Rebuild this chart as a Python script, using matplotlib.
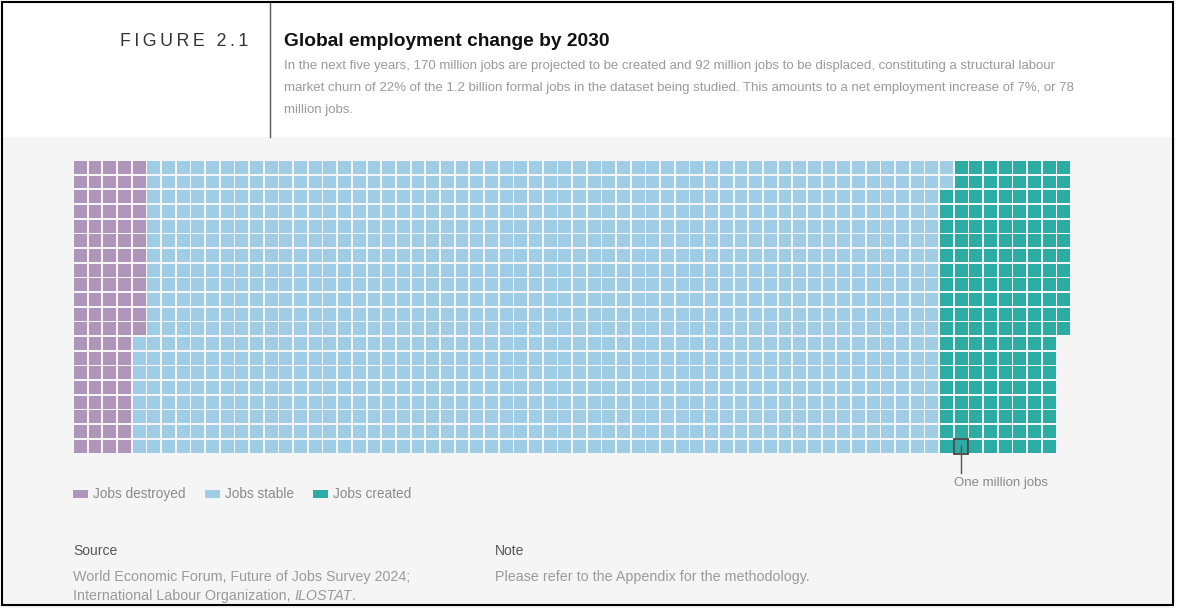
import matplotlib.pyplot as plt
from matplotlib.patches import Rectangle

# waffle data: one cell = one million jobs
categories = ['Jobs destroyed', 'Jobs stable', 'Jobs created']
counts = [92, 1090, 170]
colors = ['#B095BB', '#A0CDE6', '#2BADA3']
n_rows = 20
marked_created_cell = 37  # the "one million jobs" example cell, counted inside "created"

title = 'Global employment change by 2030'
subtitle = ['In the next five years, 170 million jobs are projected to be created and 92 million jobs to be displaced, constituting a structural labour',
            'market churn of 22% of the 1.2 billion formal jobs in the dataset being studied. This amounts to a net employment increase of 7%, or 78',
            'million jobs.']
source_lines = ['World Economic Forum, Future of Jobs Survey 2024;', 'International Labour Organization, ']
note_text = 'Please refer to the Appendix for the methodology.'

plt.rcParams['font.family'] = ['Liberation Sans', 'DejaVu Sans']

W, H = 1177, 610
fig = plt.figure(figsize=(W / 100, H / 100), dpi=100)
ax = fig.add_axes([0, 0, 1, 1])
ax.set_xlim(0, W)
ax.set_ylim(H, 0)
ax.axis('off')

# background panels
ax.add_patch(Rectangle((0, 0), W, H, color='white', zorder=0))
ax.add_patch(Rectangle((3, 137), W - 6, H - 140, color='#F5F5F5', zorder=0))
ax.add_patch(Rectangle((2, 2), 1171, 603, fill=False, ec='black', lw=1.5, zorder=5))
ax.plot([270, 270], [3, 137], color='#555555', lw=1)

# header
fig_label = '\u2009'.join('FIGURE 2.1')
ax.text(248, 42, fig_label, ha='right', va='center', fontsize=12.8, color='#333333')
ax.text(284, 42, title, ha='left', va='center', fontsize=13.8, fontweight='bold', color='#111111')
for i, line in enumerate(subtitle):
    ax.text(284, 66 + i * 22, line, ha='left', va='center', fontsize=9.55, color='#9A9A9A')

# waffle
x0, y0, cell, gap = 73, 160, 14.68, 1.8
idx = 0
for cat, n, col in zip(categories, counts, colors):
    for k in range(n):
        c, r = divmod(idx, n_rows)
        ax.add_patch(Rectangle((x0 + c * cell + gap / 2, y0 + r * cell + gap / 2),
                               cell - gap, cell - gap, color=col, lw=0, zorder=2))
        idx += 1

# "one million jobs" marker on a single created cell
mark = counts[0] + counts[1] + marked_created_cell
mc, mr = divmod(mark, n_rows)
mx, my = x0 + mc * cell, y0 + mr * cell
ax.add_patch(Rectangle((mx, my), cell, cell, fill=False, ec='#444444', lw=1.3, zorder=3))
ax.plot([mx + cell / 2, mx + cell / 2], [my + cell / 2, 473], color='#555555', lw=1, zorder=4)
ax.text(mx, 483, 'One million jobs', ha='left', va='center', fontsize=9.5, color='#8A8A8A')

# legend
leg_x = [73, 205, 313]
for lx, cat, col in zip(leg_x, categories, colors):
    ax.add_patch(Rectangle((lx, 490), 15, 8, color=col, lw=0))
    ax.text(lx + 20, 494, cat, ha='left', va='center', fontsize=9.8, color='#8A8A8A')

# source and note
fs = 10.3
ax.text(73, 551, 'Source', ha='left', va='center', fontsize=10, color='#555555')
ax.text(73, 577, source_lines[0], ha='left', va='center', fontsize=fs, color='#9A9A9A')
t = ax.text(73, 596, source_lines[1], ha='left', va='center', fontsize=fs, color='#9A9A9A')
fig.canvas.draw()
bb = t.get_window_extent()
t2 = ax.text(73 + bb.width, 596, 'ILOSTAT', ha='left', va='center', fontsize=fs, color='#9A9A9A', style='italic')
bb2 = t2.get_window_extent()
ax.text(73 + bb.width + bb2.width, 596, '.', ha='left', va='center', fontsize=fs, color='#9A9A9A')

ax.text(495, 551, 'Note', ha='left', va='center', fontsize=10, color='#555555')
ax.text(495, 577, note_text, ha='left', va='center', fontsize=fs, color='#9A9A9A')

fig.savefig('out.png', dpi=100)
